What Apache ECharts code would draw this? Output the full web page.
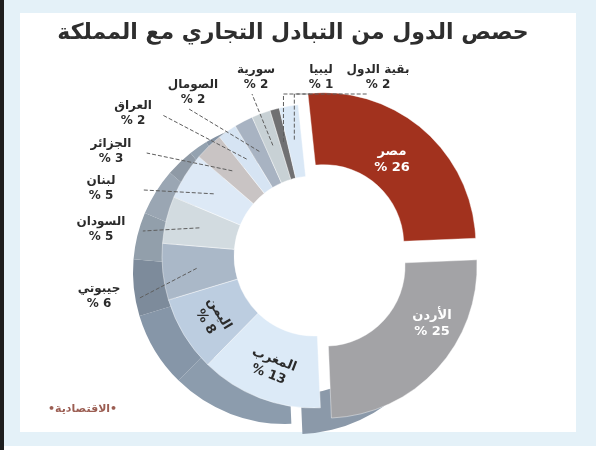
<!DOCTYPE html>
<html><head><meta charset="utf-8">
<script src="https://cdn.jsdelivr.net/npm/echarts@6/dist/echarts.min.js"></script>
<style>html,body{margin:0;padding:0;background:#fff}#c{width:600px;height:450px}</style>
</head><body><div id="c"></div>
<script>
const titleText = 'حصص الدول من التبادل التجاري مع المملكة';
const sourceText = '•الاقتصادية•';
const countries = ['مصر','الأردن','المغرب','اليمن','جيبوتي','السودان','لبنان','الجزائر','العراق','الصومال','سورية','ليبيا','بقية الدول'];
const shares = [26,25,13,8,6,5,5,3,2,2,2,1,2];
const topColors = ['#a2321e','#a3a3a6','#dceaf7','#bccde0','#aab8c8','#d2dbe0','#dde9f6','#c9c4c4','#d6e4f3','#a8b3c2','#c8d1d5','#707072','#dae8f6'];
const sideColors = ['rgba(0,0,0,0)','#8b99a9','#8c9cad','#8696a8','#7d8b9b','#929fab','#9aa6b3','#8f9aa6','#94a2b0','#8593a3','#929da5','#505052','#9aa9b8'];

// label placement (layout/style, not data): [x, y, leader style]
const labelPos = [
  [392, 160, null], [432, 324, null], null, null,
  [99, 296, 'r'], [101, 229, 'r'], [101, 188, 'r'], [111, 151, 'r'],
  [133, 113, 'r'], [193, 92, 'b'], [256, 77, 'b'], [321, 77, 'e'], [378, 77, 'e']
];

const FONT = '"DejaVu Sans", "Noto Sans", sans-serif';
const C = [314, 256];
const SC = [285, 272];
const R = [80, 152];

const topData = countries.map((n, i) => ({
  name: n, value: shares[i], selected: i < 2,
  itemStyle: {color: topColors[i]},
  label: {show: i === 2 || i === 3}
}));
const sideData = countries.map((n, i) => ({
  name: n, value: shares[i], selected: i < 2,
  itemStyle: {color: sideColors[i]}
}));
const overlayData = countries.map((n, i) => ({
  name: n, value: shares[i],
  label: i < 2 ? {show: true, position: 'inside', color: '#ffffff', fontSize: 13, lineHeight: 16}
       : {show: i >= 4},
  labelLine: {show: i >= 4}
}));

function layoutLabel(params) {
  const lp = labelPos[params.dataIndex];
  if (!lp) return {};
  const out = {x: lp[0], y: lp[1], align: 'center', verticalAlign: 'middle'};
  const pts = params.labelLinePoints;
  if (lp[2] && pts && pts.length) {
    const p0 = pts[0];
    const dx = C[0] - p0[0], dy = C[1] - p0[1];
    const d = Math.sqrt(dx * dx + dy * dy) || 1;
    const inner = [p0[0] + dx / d * 34, p0[1] + dy / d * 34];
    const w = params.rect.width;
    if (lp[2] === 'r') {
      out.labelLinePoints = [inner, [lp[0] + w / 2 + 3, lp[1] + 2]];
    } else if (lp[2] === 'b') {
      out.labelLinePoints = [inner, [lp[0] - 4, lp[1] + 17]];
    } else {
      const ay = lp[1] + 17;
      out.labelLinePoints = [inner, [inner[0], ay], [lp[0] - w / 2 + 2, ay]];
    }
  }
  return out;
}

const labelFont = {fontFamily: FONT, fontSize: 12, fontWeight: 'bold', lineHeight: 15, align: 'center',
  formatter: p => p.name + '\n% ' + p.value};

const chart = echarts.init(document.getElementById('c'), null, {renderer: 'canvas'});
chart.setOption({
  backgroundColor: '#ffffff',
  animation: false,
  graphic: [
    {type: 'rect', z: -10, shape: {x: 0, y: 0, width: 596, height: 446}, style: {fill: '#e4f1f8'}},
    {type: 'rect', z: -10, shape: {x: 0, y: 0, width: 4, height: 450}, style: {fill: '#1e1e1e'}},
    {type: 'rect', z: -9, shape: {x: 20, y: 13, width: 556, height: 419}, style: {fill: '#ffffff'}},
    {type: 'text', left: 48, top: 404, style: {text: sourceText, fill: '#9b5d52', font: 'bold 11px ' + FONT}}
  ],
  title: {
    text: titleText, left: 288, textAlign: 'center', top: 17,
    textStyle: {fontFamily: FONT, fontSize: 22, fontWeight: 'bold', color: '#2e2e2e'}
  },
  series: [
    {
      type: 'pie', silent: true, center: SC, radius: [112, R[1]], startAngle: 96, clockwise: true,
      selectedMode: 'multiple', selectedOffset: 15, label: {show: false}, labelLine: {show: false},
      emphasis: {disabled: true}, data: sideData
    },
    {
      type: 'pie', silent: true, center: C, radius: R, startAngle: 96, clockwise: true,
      selectedMode: 'multiple', selectedOffset: 15, emphasis: {disabled: true},
      itemStyle: {borderColor: 'rgba(255,255,255,0.7)', borderWidth: 0.6},
      label: Object.assign({position: 'inside', color: '#2b2b2b', rotate: 'tangential'}, labelFont, {fontSize: 13, lineHeight: 16}),
      labelLine: {show: false},
      data: topData
    },
    {
      type: 'pie', silent: true, z: 5, center: C, radius: R, startAngle: 96, clockwise: true,
      emphasis: {disabled: true},
      itemStyle: {color: 'rgba(0,0,0,0)'},
      label: Object.assign({position: 'outside', color: '#2b2b2b'}, labelFont),
      labelLine: {length: 22, length2: 8, lineStyle: {type: 'dashed', color: '#5e5e5e', width: 1}},
      labelLayout: layoutLabel,
      data: overlayData
    }
  ]
});
</script></body></html>
